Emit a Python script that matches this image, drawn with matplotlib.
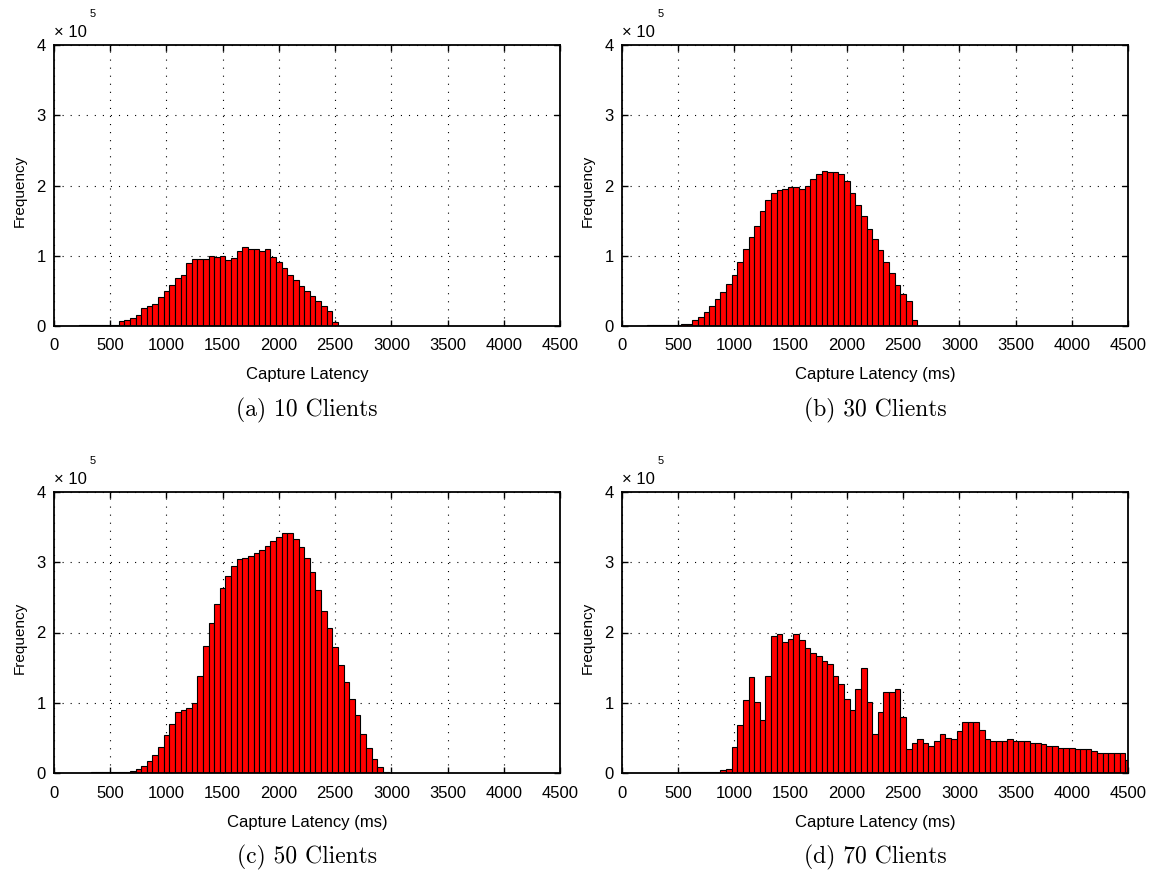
import matplotlib
matplotlib.use("Agg")
import matplotlib.pyplot as plt
import numpy as np

plt.rcParams['font.family'] = ['Liberation Sans', 'DejaVu Sans']

# ---------------- data (frequency in units of 10^5, bins of 50 ms) ----------------
BIN_WIDTH = 50

start_10 = 250
freq_10 = [0.012, 0.012, 0.012, 0.012, 0.012, 0.012, 0.012,
           0.065, 0.09, 0.12, 0.16, 0.25, 0.28, 0.32, 0.41, 0.50, 0.58, 0.69, 0.73,
           0.89, 0.95, 0.95, 0.95, 1.00, 0.98, 1.00, 0.94, 0.97, 1.07, 1.13, 1.09,
           1.09, 1.07, 1.09, 0.98, 0.91, 0.82, 0.73, 0.65, 0.57, 0.50, 0.42, 0.35,
           0.28, 0.21, 0.05]

start_30 = 250
freq_30 = [0.01, 0.01, 0.01, 0.01, 0.01, 0.01,
           0.03, 0.03, 0.08, 0.13, 0.20, 0.29, 0.38, 0.49, 0.60, 0.72, 0.91, 1.09,
           1.26, 1.42, 1.63, 1.80, 1.90, 1.93, 1.95, 1.98, 1.98, 1.95, 1.99, 2.09,
           2.16, 2.20, 2.19, 2.19, 2.16, 2.07, 1.90, 1.72, 1.56, 1.38, 1.24, 1.08,
           0.91, 0.75, 0.59, 0.45, 0.36, 0.08]

start_50 = 350
freq_50 = [0.01, 0.01, 0.01, 0.01, 0.01, 0.01, 0.01,
           0.03, 0.05, 0.10, 0.17, 0.26, 0.37, 0.54, 0.70, 0.87, 0.89, 0.93, 1.00,
           1.38, 1.81, 2.14, 2.40, 2.63, 2.80, 2.94, 3.04, 3.06, 3.09, 3.13, 3.18,
           3.23, 3.30, 3.36, 3.41, 3.41, 3.33, 3.22, 3.06, 2.86, 2.61, 2.31, 2.06,
           1.80, 1.54, 1.30, 1.05, 0.82, 0.56, 0.36, 0.20, 0.08, 0.02]

start_70 = 550
freq_70 = [0.01, 0.01, 0.01, 0.01, 0.01, 0.01, 0.01,
           0.04, 0.06, 0.37, 0.69, 1.04, 1.36, 1.01, 0.76, 1.38, 1.95, 1.98, 1.87,
           1.91, 1.98, 1.89, 1.78, 1.71, 1.66, 1.59, 1.55, 1.38, 1.27, 1.06, 0.90,
           1.20, 1.50, 1.01, 0.55, 0.87, 1.16, 1.16, 1.19, 0.80, 0.34, 0.43, 0.48,
           0.43, 0.38, 0.46, 0.55, 0.50, 0.48, 0.60, 0.72, 0.72, 0.72, 0.61, 0.48,
           0.46, 0.46, 0.46, 0.48, 0.46, 0.46, 0.46, 0.43, 0.43, 0.41, 0.38, 0.38,
           0.36, 0.36, 0.36, 0.34, 0.34, 0.34, 0.31, 0.29, 0.29, 0.29, 0.29, 0.29,
           0.19]

panels = [
    (start_10, freq_10, "Capture Latency", "(a) 10 Clients"),
    (start_30, freq_30, "Capture Latency (ms)", "(b) 30 Clients"),
    (start_50, freq_50, "Capture Latency (ms)", "(c) 50 Clients"),
    (start_70, freq_70, "Capture Latency (ms)", "(d) 70 Clients"),
]

x_ticks = [0, 500, 1000, 1500, 2000, 2500, 3000, 3500, 4000, 4500]
y_ticks = [0, 1, 2, 3, 4]

# ---------------- layout ----------------
W, H = 1157, 873
fig = plt.figure(figsize=(W / 100, H / 100), dpi=100)

ax_w, ax_h = 506, 281
lefts = [54, 622]
tops = [45, 492]
positions = [(lefts[0], tops[0]), (lefts[1], tops[0]), (lefts[0], tops[1]), (lefts[1], tops[1])]

for (start, freq, xlabel, caption), (lx, ty) in zip(panels, positions):
    ax = fig.add_axes([lx / W, (H - ty - ax_h) / H, ax_w / W, ax_h / H])
    centers = start + BIN_WIDTH * np.arange(len(freq))
    ax.bar(centers, freq, width=BIN_WIDTH, color='#ff0000', edgecolor='black',
           linewidth=0.8, align='center')
    ax.set_xlim(0, 4500)
    ax.set_ylim(0, 4)
    ax.set_xticks(x_ticks)
    ax.set_yticks(y_ticks)
    ax.set_xticklabels([str(t) for t in x_ticks])
    ax.set_yticklabels([str(t) for t in y_ticks])
    ax.set_axisbelow(True)
    ax.grid(True, color='black', linestyle=(0, (1, 6.25)), linewidth=0.8)
    for sp in ax.spines.values():
        sp.set_linewidth(1.3)
        sp.set_color('black')
    ax.tick_params(axis='both', direction='in', length=4, width=1.0,
                   top=True, right=True, labelsize=12, colors='black')
    ax.tick_params(axis='x', pad=9)
    ax.tick_params(axis='y', pad=6)

    ax.set_xlabel(xlabel, fontsize=12)
    ax.xaxis.set_label_coords(0.5, -49 / ax_h)
    ax.xaxis.label.set_va('center')
    ax.set_ylabel("Frequency", fontsize=11)
    ax.yaxis.set_label_coords(-34 / ax_w, 0.48)
    ax.yaxis.label.set_va('center')

    # scale factor label
    ax.text(0.0, 1 + 8 / ax_h, "\u00d7 10", transform=ax.transAxes,
            ha='left', va='baseline', fontsize=12)
    ax.text(39 / ax_w, 1 + 31 / ax_h, "5", transform=ax.transAxes,
            ha='center', va='center', fontsize=8)

    # caption
    cx = (lx + ax_w / 2) / W
    cy = (H - (ty + ax_h + 84)) / H
    fig.text(cx, cy, caption, ha='center', va='center', fontsize=17,
             family=['cmr10', 'DejaVu Serif'])

fig.savefig("out.png", dpi=100)
